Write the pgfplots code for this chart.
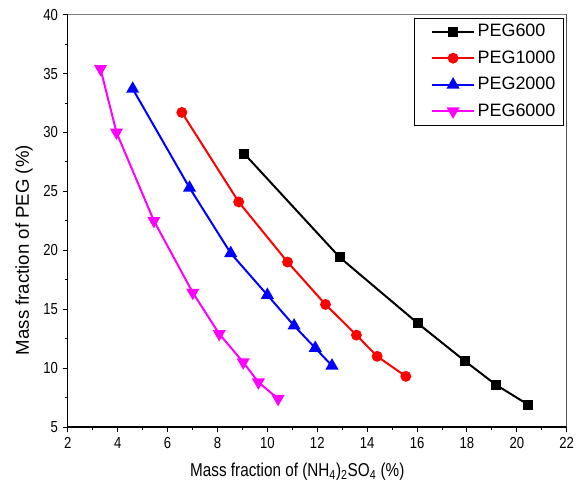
\documentclass[border=0pt]{standalone}
\usepackage{pgfplots}
\pgfplotsset{compat=1.18}
\usepackage{fontspec}
\setmainfont{Liberation Sans}
\newfontfamily\narrowfont[FakeStretch=0.82]{Liberation Sans}
\definecolor{pegmagenta}{RGB}{255,0,255}

\begin{document}
\begin{tikzpicture}
\begin{axis}[
    scale only axis,
    width=375pt, height=310pt,
    xmin=2, xmax=22, ymin=5, ymax=40,
    xtick={2,4,...,22}, ytick={5,10,...,40},
    minor x tick num=1, minor y tick num=1,
    xtick pos=bottom, ytick pos=left,
    tick align=outside,
    major tick length=4pt, minor tick length=2.5pt,
    tick style={black, line width=0.7pt},
    axis line style={line width=0.9pt},
    /pgf/number format/assume math mode=true,
    ticklabel style={font=\narrowfont\fontsize{12}{14}\selectfont},
    xlabel={Mass fraction of (NH\textsubscript{4})\textsubscript{2}SO\textsubscript{4} (\%)},
    ylabel={Mass fraction of PEG (\%)},
    xlabel style={font=\narrowfont\fontsize{14}{16}\selectfont, yshift=-4pt, xshift=-15pt},
    ylabel style={font=\fontsize{14}{16}\selectfont, yshift=1pt, xshift=-22pt},
    legend style={at={(rel axis cs:0.994,0.993)}, anchor=north east,
        draw=black, font=\fontsize{13.5}{15}\selectfont,
        row sep=5pt, inner xsep=4pt, inner ysep=3pt},
    legend cell align=left,
    legend image code/.code={
        \path (-9pt,0pt);
        \draw[mark repeat=2, mark phase=2, line width=1.5pt]
        plot coordinates {(0cm,0cm) (0.55cm,0cm) (1.1cm,0cm)};},
    every axis plot/.append style={line width=1.5pt},
]
\addplot[black, mark=square*, mark size=3pt] coordinates {
    (9.07,28.2) (12.9,19.4) (16.03,13.8) (17.92,10.6) (19.15,8.6) (20.45,6.9)
};
\addlegendentry{PEG600}
\addplot[red, mark=*, mark size=3.3pt] coordinates {
    (6.57,31.7) (8.85,24.1) (10.81,19.0) (12.33,15.4) (13.57,12.8) (14.4,11.0) (15.55,9.3)
};
\addlegendentry{PEG1000}
\addplot[blue, mark=triangle*, mark size=4.2pt] coordinates {
    (4.6,33.7) (6.88,25.3) (8.53,19.75) (10.0,16.2) (11.07,13.6) (11.92,11.7) (12.59,10.2)
};
\addlegendentry{PEG2000}
\addplot[pegmagenta, mark=triangle*, mark options={rotate=180}, mark size=4.2pt] coordinates {
    (3.31,35.4) (3.95,30.0) (5.45,22.5) (7.01,16.4) (8.07,12.9) (9.03,10.5) (9.64,8.8) (10.43,7.4)
};
\addlegendentry{PEG6000}
\draw[gray, line width=0.8pt] (rel axis cs:0,1) -- (rel axis cs:1,1) -- (rel axis cs:1,0);
\end{axis}
\pgfresetboundingbox
\path ([xshift=-51pt,yshift=-53pt]current axis.south west)
    rectangle ([xshift=7pt,yshift=11pt]current axis.north east);
\end{tikzpicture}
\end{document}
